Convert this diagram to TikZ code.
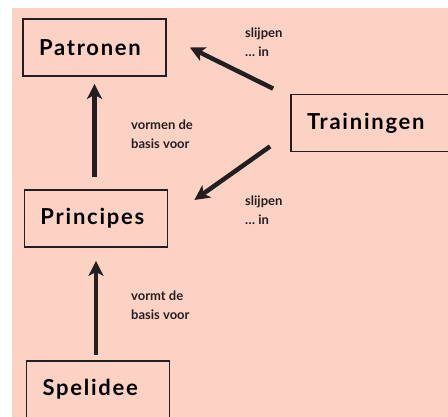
\documentclass[tikz,border=0pt]{standalone}
\usepackage{fontspec}
\setmainfont{Lato}
\usetikzlibrary{arrows.meta}
\definecolor{zalm}{HTML}{FCD2C4}
\definecolor{inkt}{HTML}{231F20}

\begin{document}
\begin{tikzpicture}[x=1pt, y=-1pt,
	BoxStyle/.style = { draw = inkt, line width = 1.8pt, text width = 111pt,
	                    minimum height = 57pt, inner xsep = 16pt, inner ysep = 0pt, align = left,
	                    font = \fontsize{22}{22}\selectfont\bfseries\addfontfeatures{LetterSpace=8}},
	LabelStyle/.style = { anchor = north west, inner sep = 0pt, align = left, text = inkt,
	                      font = \fontsize{13}{19}\selectfont\bfseries },
	ArrowStyle/.style = { draw = inkt, line width = 4.5pt,
	                      -{Stealth[length = 15pt, width = 15pt, inset = 4pt]} }]
	\useasboundingbox (0,0) rectangle (448,417);
	\clip (0,0) rectangle (448,417);
	\fill[zalm] (12,8) rectangle (448,417);
%	\draw[help lines] (0,0) grid (448,417);
	\node[BoxStyle] (patronen)   at (94.5,47.5)  {Patronen};
	\node[BoxStyle] (principes)  at (96,218.5)   {Principes};
	\node[BoxStyle] (spelidee)   at (98,389.5)   {Spelidee};
	\node[BoxStyle, text width = 137pt] (trainingen) at (375.5,123) {Trainingen};
	% labels
	\node[LabelStyle] (slijpenA) at (245,28)  {slijpen\\\dots\ in};
	\node[LabelStyle] (vormen)   at (131,120) {vormen de\\basis voor};
	\node[LabelStyle] (slijpenB) at (245,196) {slijpen\\\dots\ in};
	\node[LabelStyle] (vormt)    at (131,291) {vormt de\\basis voor};
	% arrows
	\draw[ArrowStyle] ([yshift=5pt]principes.south |- spelidee.north)
	                  -- ([yshift=-13pt]principes.south);
	\draw[ArrowStyle] ([yshift=12pt]patronen.south |- principes.north)
	                  -- ([yshift=-7pt]patronen.south);
	\draw[ArrowStyle] ([xshift=-17pt,yshift=5pt]trainingen.north west)
	                  -- ([xshift=23pt]patronen.east);
	\draw[ArrowStyle] ([xshift=-20pt,yshift=6pt]trainingen.south west)
	                  -- ([xshift=26pt,yshift=18.5pt]principes.east);
\end{tikzpicture}
\end{document}
